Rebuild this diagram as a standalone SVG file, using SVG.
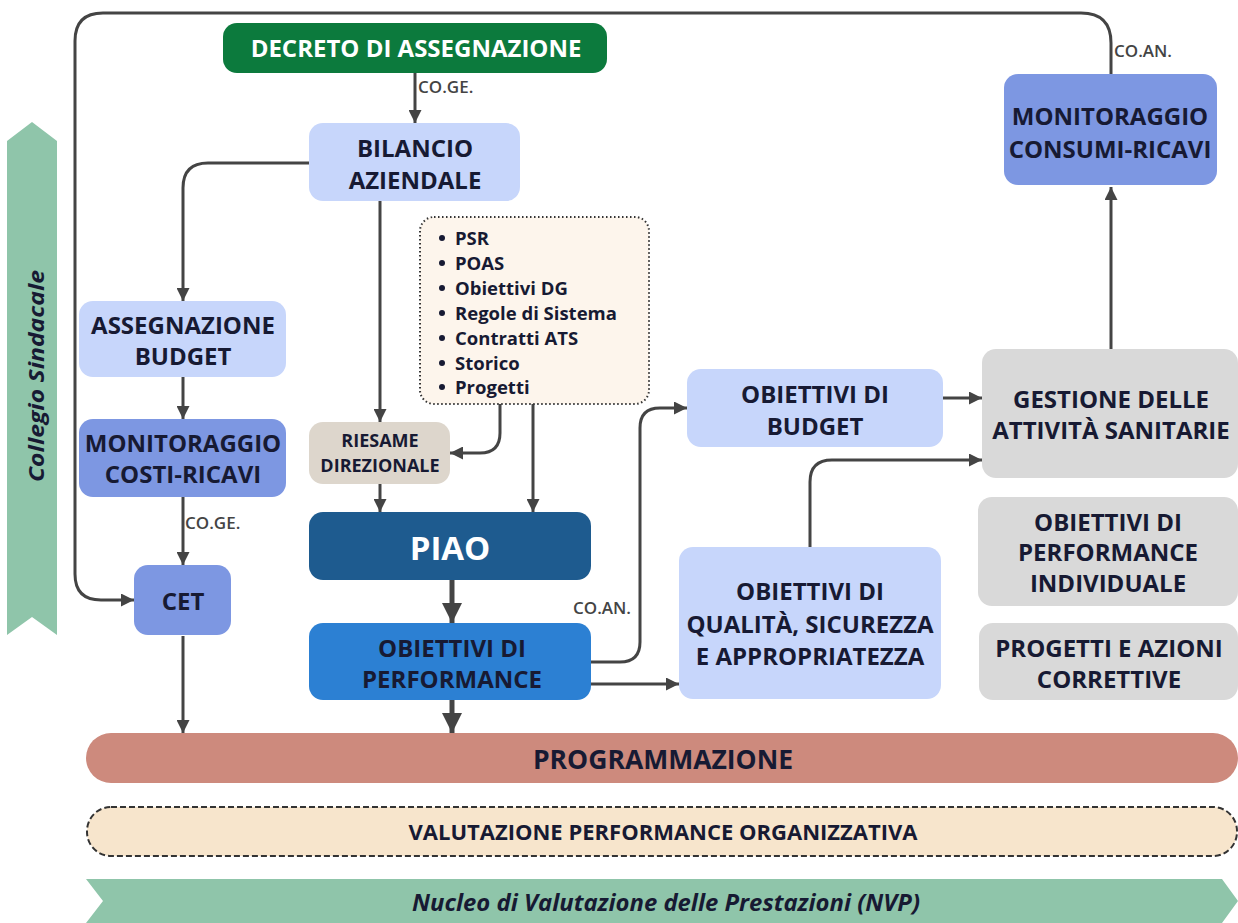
<svg xmlns="http://www.w3.org/2000/svg" width="1238" height="923" viewBox="0 0 1238 923">
<defs>
<style>
text{font-family:"Open Sans","Liberation Sans",sans-serif;font-weight:700;fill:#171a33;text-anchor:middle;dominant-baseline:central}
.lbl{font-size:24px}
.sm{font-size:18px}
.tag{font-size:17px;font-weight:600;fill:#444;text-anchor:start}
.bul{font-size:18.5px;text-anchor:start}
.w{fill:#ffffff}
.con{fill:none;stroke:#444;stroke-width:3}
.thick{fill:none;stroke:#444;stroke-width:5}
.lb{fill:#c7d6fb}
.mb{fill:#7d97e2}
.gr{fill:#d9d9d9}
</style>
<marker id="ah" viewBox="0 0 10 10" refX="10" refY="5" markerWidth="13" markerHeight="13" markerUnits="userSpaceOnUse" orient="auto"><path d="M0,0 L10,5 L0,10 z" fill="#444"/></marker>
<marker id="ahb" viewBox="0 0 10 10" refX="10" refY="5" markerWidth="20" markerHeight="20" markerUnits="userSpaceOnUse" orient="auto"><path d="M0,0 L10,5 L0,10 z" fill="#444"/></marker>
</defs>

<g id="collegio-sindacale">
<polygon points="32,122 57,141 57,635 32,617 7,635 7,141" fill="#8fc5aa"/>
<text transform="translate(35,376) rotate(-90)" style="font-size:22px;font-style:italic" textLength="212" lengthAdjust="spacingAndGlyphs">Collegio Sindacale</text>
</g>

<g id="connectors">
<path class="con" d="M1111,74 V43 Q1111,13 1081,13 H103 Q75,13 75,41 V574 Q75,600 101,600 H134" marker-end="url(#ah)"/>
<path class="con" d="M415,73 V123" marker-end="url(#ah)"/>
<path class="con" d="M309,163 H208 Q183,163 183,188 V301" marker-end="url(#ah)"/>
<path class="con" d="M183,377 V419" marker-end="url(#ah)"/>
<path class="con" d="M183,497 V565" marker-end="url(#ah)"/>
<path class="con" d="M183,636 V733" marker-end="url(#ah)"/>
<path class="con" d="M380,201 V422" marker-end="url(#ah)"/>
<path class="con" d="M500,404 V433 Q500,453 480,453 H450" marker-end="url(#ah)"/>
<path class="con" d="M533,404 V512" marker-end="url(#ah)"/>
<path class="con" d="M380,484 V512" marker-end="url(#ah)"/>
<path class="thick" d="M452,580 V623" marker-end="url(#ahb)"/>
<path class="thick" d="M452,700 V733" marker-end="url(#ahb)"/>
<path class="con" d="M591,662 H620 Q640,662 640,642 V428 Q640,408 660,408 H687" marker-end="url(#ah)"/>
<path class="con" d="M591,684 H679" marker-end="url(#ah)"/>
<path class="con" d="M943,398 H982" marker-end="url(#ah)"/>
<path class="con" d="M810,547 V482 Q810,460 832,460 H982" marker-end="url(#ah)"/>
<path class="con" d="M1111,349 V187" marker-end="url(#ah)"/>
<text class="tag" x="418" y="86">CO.GE.</text>
<text class="tag" x="185" y="522">CO.GE.</text>
<text class="tag" x="573" y="607">CO.AN.</text>
<text class="tag" x="1114" y="50">CO.AN.</text>
</g>

<g id="decreto">
<rect x="223" y="23" width="384" height="50" rx="14" fill="#0c7a3d"/>
<text class="w" x="416" y="47" style="font-size:24px">DECRETO DI ASSEGNAZIONE</text>
</g>

<g id="bilancio">
<rect class="lb" x="309" y="123" width="211" height="78" rx="14"/>
<text class="lbl" x="415" y="147">BILANCIO</text>
<text class="lbl" x="415" y="179">AZIENDALE</text>
</g>

<g id="fonti">
<rect x="420" y="217" width="229" height="187" rx="14" fill="#fdf5ec" stroke="#333" stroke-width="2" stroke-dasharray="1.5 2.5"/>
<g fill="#171a33">
<circle cx="442" cy="238" r="3"/><circle cx="442" cy="263" r="3"/><circle cx="442" cy="288" r="3"/><circle cx="442" cy="313" r="3"/><circle cx="442" cy="338" r="3"/><circle cx="442" cy="363" r="3"/><circle cx="442" cy="387" r="3"/>
</g>
<text class="bul" x="455" y="237">PSR</text>
<text class="bul" x="455" y="262">POAS</text>
<text class="bul" x="455" y="287">Obiettivi DG</text>
<text class="bul" x="455" y="312">Regole di Sistema</text>
<text class="bul" x="455" y="337">Contratti ATS</text>
<text class="bul" x="455" y="362">Storico</text>
<text class="bul" x="455" y="386">Progetti</text>
</g>

<g id="assegnazione-budget">
<rect class="lb" x="79" y="301" width="207" height="76" rx="14"/>
<text class="lbl" x="183" y="324">ASSEGNAZIONE</text>
<text class="lbl" x="183" y="355">BUDGET</text>
</g>

<g id="monitoraggio-costi">
<rect class="mb" x="79" y="419" width="207" height="78" rx="14"/>
<text class="lbl" x="183" y="442">MONITORAGGIO</text>
<text class="lbl" x="183" y="473">COSTI-RICAVI</text>
</g>

<g id="cet">
<rect class="mb" x="134" y="565" width="97" height="70" rx="14"/>
<text class="lbl" x="183" y="600">CET</text>
</g>

<g id="riesame">
<rect x="309" y="422" width="141" height="62" rx="14" fill="#ddd6cc"/>
<text class="sm" x="380" y="440">RIESAME</text>
<text class="sm" x="380" y="465">DIREZIONALE</text>
</g>

<g id="piao">
<rect x="309" y="512" width="282" height="68" rx="14" fill="#1e5b8f"/>
<text class="w" x="450" y="547" style="font-size:33px">PIAO</text>
</g>

<g id="obiettivi-performance">
<rect x="309" y="623" width="282" height="77" rx="14" fill="#2c80d3"/>
<text class="lbl" x="452" y="647">OBIETTIVI DI</text>
<text class="lbl" x="452" y="678">PERFORMANCE</text>
</g>

<g id="obiettivi-budget">
<rect class="lb" x="687" y="369" width="256" height="78" rx="14"/>
<text class="lbl" x="815" y="393">OBIETTIVI DI</text>
<text class="lbl" x="815" y="425">BUDGET</text>
</g>

<g id="obiettivi-qualita">
<rect class="lb" x="679" y="547" width="262" height="152" rx="14"/>
<text class="lbl" x="810" y="590">OBIETTIVI DI</text>
<text class="lbl" x="810" y="623">QUALITÀ, SICUREZZA</text>
<text class="lbl" x="810" y="655">E APPROPRIATEZZA</text>
</g>

<g id="monitoraggio-consumi">
<rect class="mb" x="1004" y="74" width="213" height="111" rx="14"/>
<text class="lbl" x="1110" y="115">MONITORAGGIO</text>
<text class="lbl" x="1110" y="148">CONSUMI-RICAVI</text>
</g>

<g id="gestione">
<rect class="gr" x="982" y="349" width="256" height="129" rx="14"/>
<text class="lbl" x="1111" y="398">GESTIONE DELLE</text>
<text class="lbl" x="1111" y="429">ATTIVITÀ SANITARIE</text>
</g>

<g id="performance-individuale">
<rect class="gr" x="978" y="497" width="260" height="109" rx="14"/>
<text class="lbl" x="1108" y="521">OBIETTIVI DI</text>
<text class="lbl" x="1108" y="551">PERFORMANCE</text>
<text class="lbl" x="1108" y="582">INDIVIDUALE</text>
</g>

<g id="progetti">
<rect class="gr" x="979" y="623" width="259" height="77" rx="14"/>
<text class="lbl" x="1109" y="647">PROGETTI E AZIONI</text>
<text class="lbl" x="1109" y="678">CORRETTIVE</text>
</g>

<g id="programmazione">
<rect x="86" y="733" width="1152" height="50" rx="25" fill="#cd8a7d"/>
<text x="663" y="759" style="font-size:26.5px">PROGRAMMAZIONE</text>
</g>

<g id="valutazione">
<rect x="87" y="807" width="1150" height="49" rx="24" fill="#f7e5cc" stroke="#333" stroke-width="2" stroke-dasharray="6 3"/>
<text x="663" y="831" style="font-size:22px">VALUTAZIONE PERFORMANCE ORGANIZZATIVA</text>
</g>

<g id="nvp">
<polygon points="86,879 1222,879 1238,901 1222,923 86,923 103,901" fill="#8fc5aa"/>
<text x="666" y="902" style="font-size:23px;font-style:italic" textLength="508" lengthAdjust="spacingAndGlyphs">Nucleo di Valutazione delle Prestazioni (NVP)</text>
</g>
</svg>
